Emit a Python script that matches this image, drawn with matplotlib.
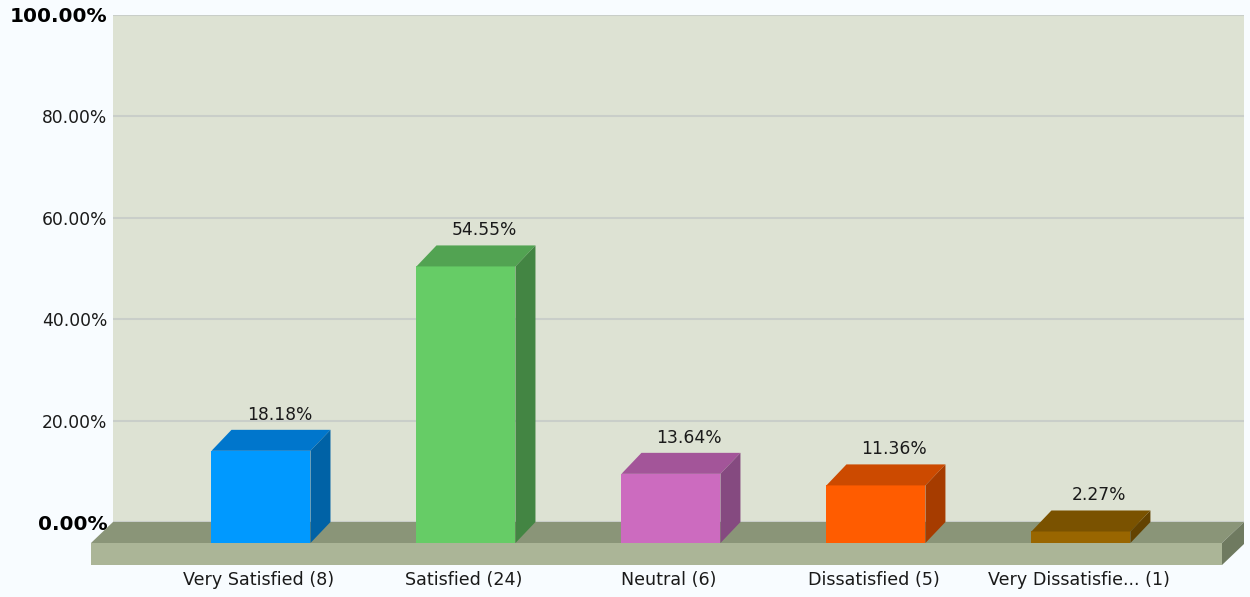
"""
3D style survey bar chart, drawn with plain fills on one axes.
"""

import matplotlib.pyplot as plt
import numpy as np

categories = ["Very Satisfied (8)", "Satisfied (24)", "Neutral (6)",
              "Dissatisfied (5)", "Very Dissatisfie... (1)"]
percents = [18.18, 54.55, 13.64, 11.36, 2.27]
front_colors = ["#0099FF", "#66CC66", "#CC6BBF", "#FF5C00", "#996600"]
top_colors = ["#0076CC", "#52A352", "#A35599", "#CC4A00", "#7A5200"]
side_colors = ["#0062A6", "#438543", "#854A80", "#A63C00", "#634200"]
y_ticks = [0, 20, 40, 60, 80, 100]

W, H = 1250, 597
PAGE = "#F8FCFF"
TEXT = "#1A1A1A"

fig = plt.figure(figsize=(W / 100, H / 100), dpi=100, facecolor=PAGE)
plt.rcParams["font.family"] = "DejaVu Sans"

# axes is the back wall of the box
ax = fig.add_axes([113 / W, 1 - 522 / H, (1244 - 113) / W, (522 - 15) / H])
ax.set_facecolor("#DDE2D3")

# depth of the 3D effect in data units
dx = 20 / 205
dy = 21 / 5.07
floor_dx = 22 / 205
bar_w = 99 / 205
slab = 22 / 5.07

x0, x1 = -0.8195, 4.698
pos = np.arange(len(percents))

ax.yaxis.grid(True, color="#C9CEC9", linewidth=1.5)
ax.set_axisbelow(True)

# floor slab
ax.fill([x0, x1, x1 - floor_dx, x0 - floor_dx], [0, 0, -dy, -dy],
        color="#8A9578", clip_on=False, zorder=2, linewidth=0)
ax.fill([x0 - floor_dx, x1 - floor_dx, x1 - floor_dx, x0 - floor_dx],
        [-dy, -dy, -dy - slab, -dy - slab], color="#ABB597",
        clip_on=False, zorder=2, linewidth=0)
ax.fill([x1 - floor_dx, x1, x1, x1 - floor_dx], [-dy, 0, -slab, -dy - slab],
        color="#6F7A60", clip_on=False, zorder=2, linewidth=0)

# bars: front face, then top and side
for i, v in enumerate(percents):
    left = pos[i] - dx - bar_w / 2
    right = left + bar_w
    ax.bar(pos[i] - dx, v, width=bar_w, bottom=-dy, color=front_colors[i],
           clip_on=False, zorder=3, linewidth=0)
    ax.fill([left, right, right + dx, left + dx],
            [v - dy, v - dy, v, v], color=top_colors[i],
            clip_on=False, zorder=3, linewidth=0)
    ax.fill([right, right + dx, right + dx, right],
            [-dy, 0, v, v - dy], color=side_colors[i],
            clip_on=False, zorder=3, linewidth=0)
    ax.annotate(f"{v:.2f}%", (pos[i] - dx + 0.09, v), xytext=(0, 6),
                textcoords="offset pixels", ha="center", va="bottom",
                fontsize=12.3, color=TEXT, zorder=4, annotation_clip=False)

ax.set_xlim(x0, x1)
ax.set_ylim(0, 100)

ax.set_yticks(y_ticks)
ax.set_yticklabels([f"{t:.2f}%" for t in y_ticks], fontsize=12.3, color=TEXT)
for lab in (ax.get_yticklabels()[0], ax.get_yticklabels()[-1]):
    lab.set_fontweight("bold")
    lab.set_fontsize(14.5)
    lab.set_color("#000000")
ax.set_xticks(pos - dx - 0.01)
ax.set_xticklabels(categories, fontsize=12.6, color=TEXT)
ax.tick_params(axis="both", length=0)
ax.tick_params(axis="y", pad=4)
ax.tick_params(axis="x", pad=35.5)

for s in ax.spines.values():
    s.set_visible(False)

fig.savefig("out.png", dpi=100, facecolor=PAGE)
